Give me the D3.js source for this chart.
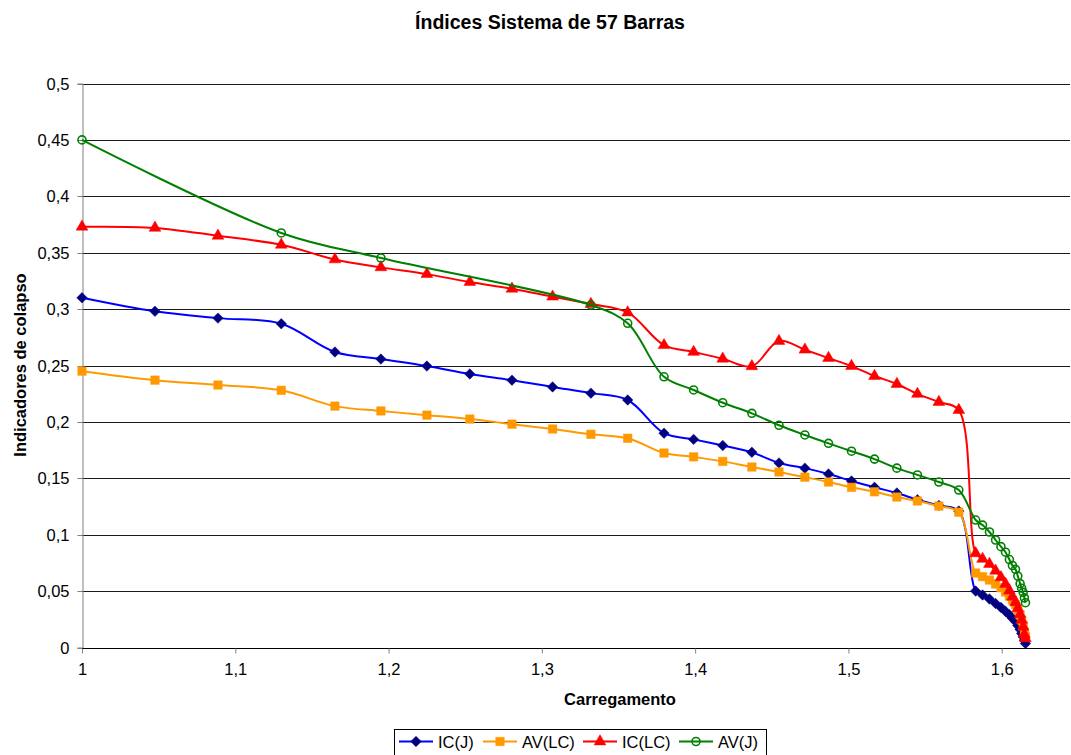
<!DOCTYPE html>
<html>
<head>
<meta charset="utf-8">
<script src="https://cdn.jsdelivr.net/npm/d3@7"></script>
<style>
  html, body { margin: 0; padding: 0; background: #fff; }
  svg { display: block; font-family: "Liberation Sans", Arial, sans-serif; }
</style>
</head>
<body>
<svg id="chart" width="1071" height="755"></svg>
<script>
// Carregamento (loading factor) shared by all series
const carregamento = [
  1.000, 1.0476, 1.0887, 1.130, 1.165, 1.195, 1.225, 1.253, 1.2805, 1.307,
  1.332, 1.356, 1.3797, 1.399, 1.418, 1.437, 1.4547, 1.4716, 1.487, 1.502,
  1.517, 1.5316, 1.545, 1.559, 1.572,
  1.583, 1.5875, 1.592, 1.596, 1.5995, 1.6025, 1.605, 1.607, 1.609, 1.6105,
  1.612, 1.613, 1.614, 1.6148, 1.6155
];

const icJ = [
  0.310, 0.298, 0.292, 0.287, 0.262, 0.2557, 0.2495, 0.2425, 0.237, 0.231,
  0.2255, 0.2194, 0.190, 0.1845, 0.179, 0.173, 0.1636, 0.159, 0.1538, 0.1476,
  0.142, 0.137, 0.131, 0.126, 0.121,
  0.050, 0.0465, 0.043, 0.039, 0.0355, 0.032, 0.029, 0.026, 0.023, 0.0195,
  0.016, 0.0125, 0.0095, 0.0065, 0.0035
];

const avLC = [
  0.245, 0.237, 0.2327, 0.228, 0.214, 0.2097, 0.206, 0.2025, 0.198, 0.1937,
  0.189, 0.1855, 0.1724, 0.169, 0.165, 0.160, 0.1556, 0.151, 0.1467, 0.142,
  0.138, 0.1334, 0.1299, 0.1254, 0.120,
  0.066, 0.0628, 0.0598, 0.0563, 0.053, 0.0492, 0.0456, 0.0421, 0.038, 0.0332,
  0.0288, 0.0244, 0.0193, 0.014, 0.0095
];

const icLC = [
  0.373, 0.372, 0.365, 0.357, 0.344, 0.337, 0.331, 0.324, 0.318, 0.311,
  0.3045, 0.297, 0.268, 0.262, 0.256, 0.2493, 0.2717, 0.264, 0.2566, 0.2495,
  0.2407, 0.2336, 0.2248, 0.2176, 0.2105,
  0.0835, 0.0785, 0.074, 0.068, 0.0622, 0.0563, 0.0504, 0.045, 0.040, 0.0348,
  0.0294, 0.0244, 0.0184, 0.0117, 0.008
];

// AV(J) was not computed at every loading step (null = no value)
const avJ = [
  0.450, null, null, 0.3675, null, 0.3453, null, null, null, null,
  0.3036, 0.2874, 0.240, 0.2283, 0.217, 0.2076, 0.197, 0.1884, 0.181, 0.174,
  0.167, 0.159, 0.153, 0.1467, 0.1396,
  0.113, 0.1085, 0.1024, 0.0953, 0.0894, 0.0845, 0.078, 0.0727, 0.0693, 0.0633,
  0.0566, 0.0526, 0.0489, 0.044, 0.0397
];

const seriesNames = ["IC(J)", "AV(LC)", "IC(LC)", "AV(J)"];
const xTicks = [1, 1.1, 1.2, 1.3, 1.4, 1.5, 1.6];
const yTicks = [0, 0.05, 0.1, 0.15, 0.2, 0.25, 0.3, 0.35, 0.4, 0.45, 0.5];

const fmt = v => String(+v.toFixed(2)).replace(".", ",");

const series = [
  { name: seriesNames[0], values: icJ,  line: "#0000FF", marker: "diamond",  fill: "#000080", stroke: "#000080" },
  { name: seriesNames[1], values: avLC, line: "#FF9900", marker: "square",   fill: "#FF9900", stroke: "#FF9900" },
  { name: seriesNames[2], values: icLC, line: "#FF0000", marker: "triangle", fill: "#FF0000", stroke: "#FF0000" },
  { name: seriesNames[3], values: avJ,  line: "#008000", marker: "circle",   fill: "none",    stroke: "#008000" }
];

const svg = d3.select("#chart");

const plotLeft = 82, plotRight = 1070, plotTop = 83.5, plotBottom = 647.5;

const x = d3.scaleLinear().domain([1, 1.7]).range([plotLeft, 1155]);
const y = d3.scaleLinear().domain([0, 0.5]).range([plotBottom, plotTop]);

// Horizontal gridlines
svg.append("g")
  .selectAll("line")
  .data(yTicks.filter(d => d > 0))
  .join("line")
  .attr("x1", plotLeft).attr("x2", plotRight)
  .attr("y1", d => Math.round(y(d)) + 0.5).attr("y2", d => Math.round(y(d)) + 0.5)
  .attr("stroke", "#1a1a1a").attr("stroke-width", 1);

// Y axis
const yAxis = svg.append("g")
  .attr("transform", `translate(${plotLeft + 0.5},0)`)
  .call(d3.axisLeft(y).tickValues(yTicks).tickFormat(fmt).tickSize(5).tickPadding(8));
yAxis.select(".domain").attr("stroke", "#808080");
yAxis.selectAll(".tick line").attr("stroke", "#808080");
yAxis.selectAll(".tick").attr("transform", d => `translate(0,${Math.round(y(d)) + 0.5})`);
yAxis.selectAll("text").attr("font-size", "16.5px").attr("fill", "#000")
  .attr("font-family", "Liberation Sans, Arial, sans-serif");

// X axis
const xAxis = svg.append("g")
  .attr("transform", `translate(0,${Math.round(plotBottom) + 0.5})`)
  .call(d3.axisBottom(x).tickValues(xTicks).tickFormat(fmt).tickSize(5).tickPadding(10).tickSizeOuter(0));
xAxis.select(".domain").attr("stroke", "#000").attr("d", `M${plotLeft},0H${plotRight}`);
xAxis.selectAll(".tick line").attr("stroke", "#808080");
xAxis.selectAll("text").attr("font-size", "16.5px").attr("fill", "#000")
  .attr("font-family", "Liberation Sans, Arial, sans-serif");

// Lines
const lineGen = d3.line()
  .x(d => x(d[0]))
  .y(d => y(d[1]))
  .curve(d3.curveCatmullRom.alpha(0.5));

const symbolFor = {
  diamond: d3.symbol().type(d3.symbolDiamond2).size(70),
  square: d3.symbol().type(d3.symbolSquare).size(72),
  triangle: d3.symbol().type(d3.symbolTriangle).size(60),
  circle: d3.symbol().type(d3.symbolCircle).size(50)
};

series.forEach(s => {
  const pts = carregamento.map((c, i) => [c, s.values[i]]).filter(p => p[1] != null);
  const g = svg.append("g");
  g.append("path")
    .datum(pts)
    .attr("d", lineGen)
    .attr("fill", "none")
    .attr("stroke", s.line)
    .attr("stroke-width", 2);
  g.selectAll("path.mk")
    .data(pts)
    .join("path")
    .attr("class", "mk")
    .attr("d", symbolFor[s.marker])
    .attr("transform", d => `translate(${x(d[0])},${y(d[1])})`)
    .attr("fill", s.fill)
    .attr("stroke", s.stroke)
    .attr("stroke-width", s.marker === "circle" ? 1.6 : 0.5);
});

// Title
svg.append("text")
  .attr("x", 550).attr("y", 29)
  .attr("text-anchor", "middle")
  .attr("font-size", "19.5px").attr("font-weight", "bold")
  .text("Índices Sistema de 57 Barras");

// Axis titles
svg.append("text")
  .attr("x", 620).attr("y", 705)
  .attr("text-anchor", "middle")
  .attr("font-size", "16.5px").attr("font-weight", "bold")
  .text("Carregamento");

svg.append("text")
  .attr("transform", "translate(26,365) rotate(-90)")
  .attr("text-anchor", "middle")
  .attr("font-size", "16.5px").attr("font-weight", "bold")
  .text("Indicadores de colapso");

// Legend
const legend = svg.append("g");
legend.append("rect")
  .attr("x", 394.5).attr("y", 729.5)
  .attr("width", 372).attr("height", 30)
  .attr("fill", "#fff").attr("stroke", "#000").attr("stroke-width", 1);

const legendX = [399, 483, 583, 679];
series.forEach((s, i) => {
  const lx = legendX[i];
  legend.append("line")
    .attr("x1", lx).attr("x2", lx + 34)
    .attr("y1", 741.5).attr("y2", 741.5)
    .attr("stroke", s.line).attr("stroke-width", 2);
  legend.append("path")
    .attr("d", symbolFor[s.marker])
    .attr("transform", `translate(${lx + 17},741.5)`)
    .attr("fill", s.fill).attr("stroke", s.stroke)
    .attr("stroke-width", s.marker === "circle" ? 1.6 : 0.5);
  legend.append("text")
    .attr("x", lx + 39).attr("y", 748)
    .attr("font-size", "16.5px")
    .text(s.name);
});
</script>
</body>
</html>
